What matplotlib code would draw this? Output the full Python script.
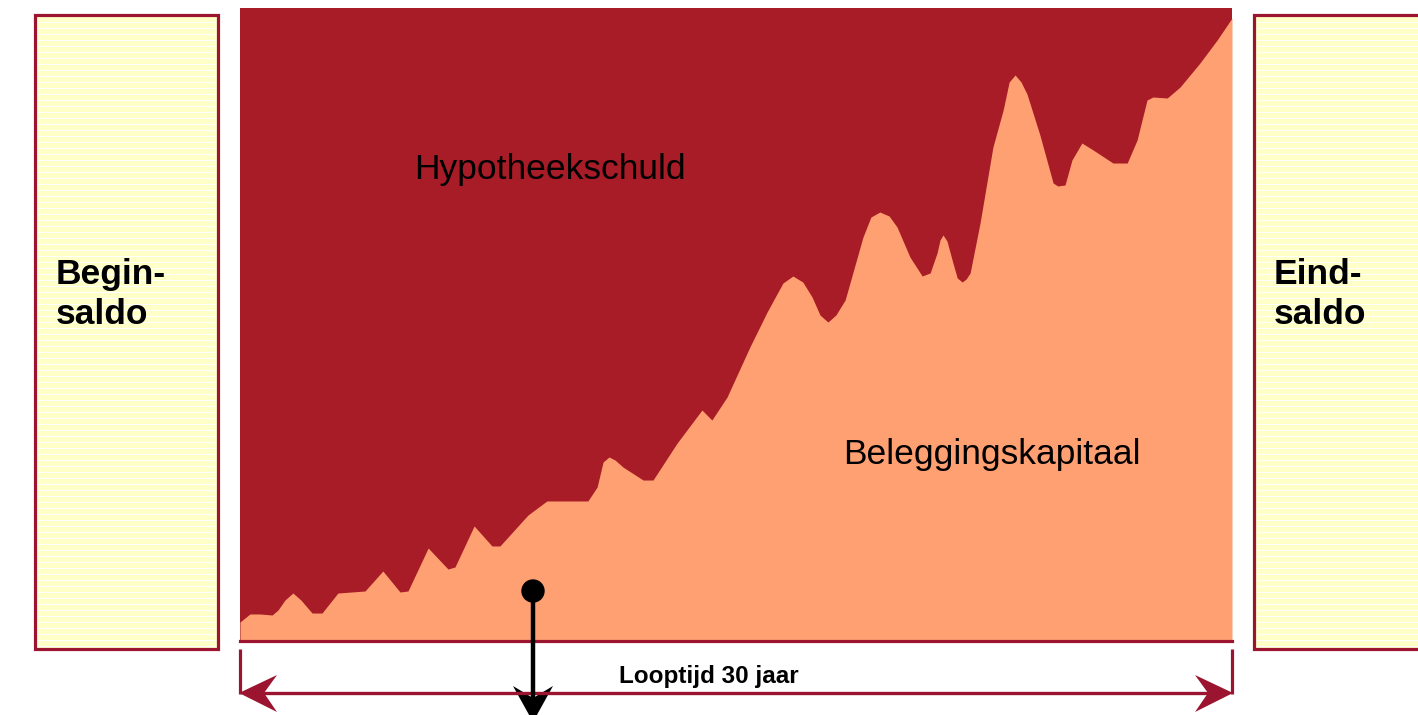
import matplotlib
matplotlib.use("Agg")
import matplotlib.pyplot as plt
from matplotlib.patches import Rectangle, Polygon, Circle

plt.rcParams['font.family'] = ['Liberation Sans', 'DejaVu Sans']

# ---- data ----
years = [0.0, 0.30, 0.60, 0.97, 1.15, 1.36, 1.60, 1.84, 2.18, 2.48, 2.96, 3.78, 4.32, 4.84, 5.08,
         5.69, 6.29, 6.50, 7.08, 7.62, 7.86, 8.71, 9.28, 10.52, 10.80, 10.98, 11.16, 11.34, 11.58,
         12.19, 12.49, 13.22, 13.97, 14.27, 14.73, 15.42, 15.94, 16.42, 16.72, 17.02, 17.30,
         17.54, 17.78, 18.02, 18.30, 18.84, 19.08, 19.35, 19.63, 19.87, 20.26, 20.63, 20.87,
         21.08, 21.17, 21.26, 21.38, 21.56, 21.69, 21.84, 21.96, 22.08, 22.38, 22.77, 23.08,
         23.26, 23.44, 23.62, 23.80, 24.19, 24.59, 24.73, 24.95, 25.16, 25.46, 25.80, 26.40,
         26.83, 27.13, 27.43, 27.61, 28.04, 28.43, 29.03, 29.55, 30.0]
kapitaal = [3.0, 4.27, 4.27, 4.11, 4.90, 6.48, 7.58, 6.48, 4.42, 4.42, 7.58, 7.90, 11.06, 7.74, 7.90,
            14.69, 11.37, 11.69, 18.17, 15.01, 15.01, 19.91, 22.12, 22.12, 24.33, 28.28, 29.07, 28.60, 27.49,
            25.43, 25.43, 31.28, 36.49, 34.91, 38.55, 46.45, 51.97, 56.56, 57.66, 56.71, 54.34,
            51.50, 50.39, 51.50, 53.87, 63.82, 66.98, 67.77, 67.14, 65.40, 60.66, 57.66, 58.14,
            61.30, 63.35, 64.14, 63.19, 59.72, 57.35, 56.71, 57.19, 58.14, 66.03, 78.04, 83.90,
            88.31, 89.42, 88.31, 86.41, 79.94, 72.35, 71.88, 72.04, 75.99, 78.67, 77.57, 75.51,
            75.51, 79.15, 85.47, 85.94, 85.78, 87.52, 91.31, 94.94, 98.42]
looptijd = 30
label_top = "Hypotheekschuld"
label_bottom = "Beleggingskapitaal"
label_left = ["Begin-", "saldo"]
label_right = ["Eind-", "saldo"]
label_axis = "Looptijd 30 jaar"

# ---- styles ----
DARK = "#A71C26"
SALMON = "#FFA072"
BORDER = "#9B1530"
YELLOW = "#FFFFC8"

W, H = 1418, 715
fig = plt.figure(figsize=(W / 100, H / 100), dpi=100)


def rect(l, t, r, b):
    return [l / W, 1 - b / H, (r - l) / W, (b - t) / H]


# main chart
ax = fig.add_axes(rect(240, 8, 1232, 641))
ax.set_facecolor(DARK)
ax.fill_between(years, 0, kapitaal, color=SALMON, lw=0)
ax.set_xlim(0, looptijd)
ax.set_ylim(0, 100)
for s in ['top', 'left', 'right']:
    ax.spines[s].set_visible(False)
ax.spines['bottom'].set_color(BORDER)
ax.spines['bottom'].set_linewidth(2.3)
ax.set_xticks([])
ax.set_yticks([])
ax.text(0.312, 0.73, label_top, transform=ax.transAxes, fontsize=25.5,
        ha='center', va='baseline', color='black')
ax.text(0.758, 0.28, label_bottom, transform=ax.transAxes, fontsize=25.5,
        ha='center', va='baseline', color='black')

# overlay in pixel coordinates for decorations
ov = fig.add_axes([0, 0, 1, 1], zorder=5)
ov.set_xlim(0, W)
ov.set_ylim(H, 0)
ov.axis('off')
ov.patch.set_alpha(0)

# side boxes
for x0, x1 in [(35, 218), (1254, 1460)]:
    ov.add_patch(Rectangle((x0, 15), x1 - x0, 634, facecolor=YELLOW,
                           edgecolor=BORDER, lw=2.3, zorder=1))
    for y in range(21, 646, 6):
        ov.plot([x0 + 3, x1 - 3], [y + 0.5, y + 0.5], color='white', lw=0.72,
                zorder=2, antialiased=False)

for i, t in enumerate(label_left):
    ov.text(56, 284 + 40 * i, t, fontsize=25.5, weight='bold', va='baseline', zorder=3)
for i, t in enumerate(label_right):
    ov.text(1274, 284 + 40 * i, t, fontsize=25.5, weight='bold', va='baseline', zorder=3)

# duration arrow
ov.plot([240, 240], [649, 694], color=BORDER, lw=2.3, solid_capstyle='butt')
ov.plot([1232, 1232], [649, 694], color=BORDER, lw=2.3, solid_capstyle='butt')
ov.plot([262, 1210], [693, 693], color=BORDER, lw=2.4)
ov.add_patch(Polygon([(239, 693), (277, 675), (264, 693), (277, 712)], closed=True,
                     facecolor=BORDER, edgecolor='none'))
ov.add_patch(Polygon([(1233, 693), (1195, 675), (1208, 693), (1195, 712)], closed=True,
                     facecolor=BORDER, edgecolor='none'))
ov.text(709, 683, label_axis, fontsize=17.5, weight='bold', ha='center', va='baseline')

# black marker arrow
ov.plot([533, 533], [591, 700], color='black', lw=3.2)
ov.add_patch(Polygon([(513, 686), (533, 698), (553, 686), (533, 722)], closed=True,
                     facecolor='black', edgecolor='none'))
ov.add_patch(Circle((533, 591), 11, color='black'))

fig.savefig("out.png", dpi=100)
